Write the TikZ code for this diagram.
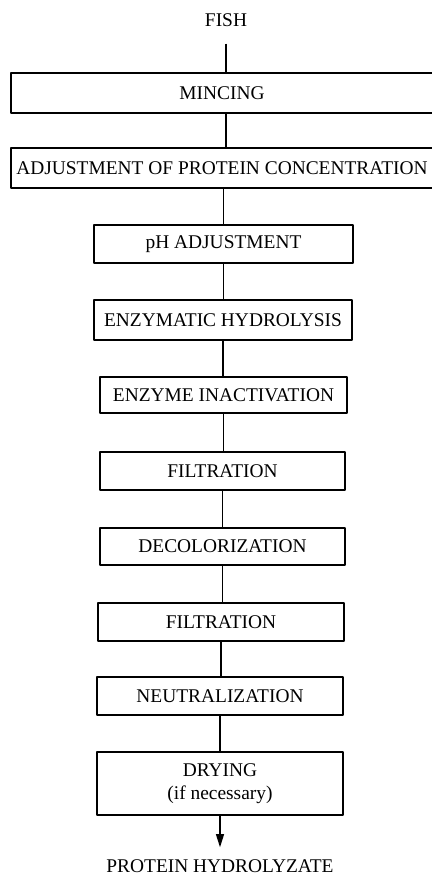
\documentclass[tikz,border=0pt]{standalone}
\usepackage{fontspec}
\setmainfont{Liberation Serif}
\usepackage{tikz}
\usetikzlibrary{arrows.meta,calc}

\tikzset{
  stepbox/.style={draw,line width=0.9pt,inner sep=0pt,align=center,
    minimum width=#1},
  stepbox/.default=6.15cm,
  flowline/.style={line width=0.9pt}
}

\begin{document}
\begin{tikzpicture}[x=0.025cm,y=-0.025cm,line join=round,
    font=\fontsize{13.8}{17}\selectfont]
  \useasboundingbox (0,0) rectangle (432,877);
  % input and output
  \node[outer sep=0.3cm] (fish) at (226,20.5) {FISH};
  \node[outer sep=0.2cm] (product) at (220,866.5) {PROTEIN HYDROLYZATE};
  % process steps
  \node[stepbox=10.55cm,minimum height=1cm] (mincing) at (222,93) {MINCING};
  \node[stepbox=10.55cm,minimum height=1cm] (protconc) at (222,168)
    {ADJUSTMENT OF PROTEIN CONCENTRATION};
  \node[stepbox=6.475cm,minimum height=0.95cm] (phadj) at (223.5,244) {pH ADJUSTMENT};
  \node[stepbox=6.45cm,minimum height=1cm] (hydrol) at (223,320) {ENZYMATIC HYDROLYSIS};
  \node[stepbox=6.175cm,minimum height=0.9cm] (inact) at (223.5,395) {ENZYME INACTIVATION};
  \node[stepbox=6.125cm,minimum height=0.95cm] (filtA) at (222.5,471) {FILTRATION};
  \node[stepbox=6.125cm,minimum height=0.925cm] (decol) at (222.5,546.5) {DECOLORIZATION};
  \node[stepbox=6.15cm,minimum height=0.95cm] (filtB) at (221,622) {FILTRATION};
  \node[stepbox=6.15cm,minimum height=0.95cm] (neutral) at (220,696) {NEUTRALIZATION};
  \node[stepbox=6.15cm,minimum height=1.575cm] (drying) at (220,783.5)
    {DRYING\\[-1pt](if necessary)};
  % connectors
  \draw[flowline] (fish.south) -- (fish.south |- mincing.north);
  \draw[flowline] (mincing.south -| fish) -- (protconc.north -| fish);
  \draw[flowline] (protconc.south -| phadj) -- (phadj.north);
  \draw[flowline] (phadj.south) -- (phadj.south |- hydrol.north);
  \draw[flowline] (hydrol.south) -- (hydrol.south |- inact.north);
  \draw[flowline] (inact.south) -- (inact.south |- filtA.north);
  \draw[flowline] (filtA.south) -- (filtA.south |- decol.north);
  \draw[flowline] (decol.south) -- (decol.south |- filtB.north);
  \draw[flowline] (filtB.south) -- (filtB.south |- neutral.north);
  \draw[flowline] (neutral.south) -- (neutral.south |- drying.north);
  \draw[flowline,-{Triangle[length=0.33cm,width=0.2cm]}] (drying.south) -- (product.north);
\end{tikzpicture}
\end{document}
